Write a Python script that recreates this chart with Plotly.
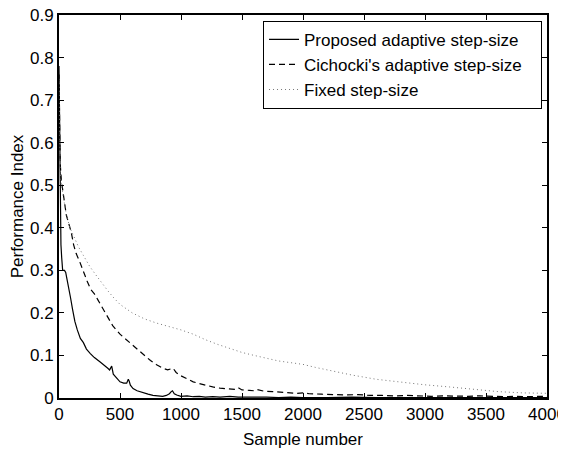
import plotly.graph_objects as go

# Proposed adaptive step-size
prop_x = [0, 4, 8, 12, 16, 22, 30, 45, 55, 65, 80, 95, 110, 130, 150, 175, 200, 225, 255, 290,
          335, 370, 400, 415, 425, 432, 445, 470, 500, 530, 555, 568, 575, 585, 607, 640, 690, 730,
          770, 810, 850, 880, 905, 920, 930, 945, 965, 1000, 1050, 1100, 1150, 1200, 1260, 1320,
          1400, 1470, 1550, 1600, 1700, 1800, 1900, 2000, 2200, 2400, 2600, 2800, 3000, 3200, 3400,
          3600, 3800, 4000]
prop_y = [0.78, 0.66, 0.52, 0.42, 0.36, 0.33, 0.30, 0.30, 0.295, 0.28, 0.26, 0.235, 0.21, 0.18,
          0.16, 0.14, 0.13, 0.115, 0.105, 0.095, 0.085, 0.078, 0.07, 0.066, 0.073, 0.075, 0.056,
          0.048, 0.038, 0.035, 0.035, 0.044, 0.04, 0.03, 0.022, 0.017, 0.012, 0.009, 0.006, 0.005,
          0.004, 0.006, 0.01, 0.015, 0.017, 0.01, 0.007, 0.004, 0.005, 0.003, 0.004, 0.002, 0.003,
          0.002, 0.004, 0.002, 0.003, 0.002, 0.002, 0.001, 0.002, 0.001, 0.001, 0.002, 0.001,
          0.001, 0.001, 0.001, 0.001, 0.001, 0.001, 0.001]

# Cichocki's adaptive step-size
cich_x = [0, 5, 10, 20, 30, 45, 60, 80, 100, 120, 140, 170, 200, 230, 260, 290, 320, 350, 380,
          410, 440, 470, 500, 540, 580, 620, 660, 700, 750, 800, 850, 890, 920, 935, 960, 1000,
          1050, 1100, 1150, 1200, 1260, 1320, 1400, 1450, 1470, 1500, 1560, 1600, 1620, 1680,
          1750, 1850, 1950, 2000, 2050, 2150, 2250, 2350, 2450, 2550, 2650, 2750, 2850, 2950,
          3050, 3150, 3250, 3350, 3450, 3550, 3650, 3750, 3850, 3950, 4000]
cich_y = [0.76, 0.62, 0.55, 0.51, 0.49, 0.45, 0.43, 0.41, 0.39, 0.36, 0.34, 0.32, 0.295, 0.275,
          0.255, 0.245, 0.23, 0.215, 0.2, 0.185, 0.17, 0.16, 0.15, 0.14, 0.13, 0.12, 0.11, 0.1,
          0.088, 0.078, 0.07, 0.066, 0.068, 0.07, 0.06, 0.052, 0.045, 0.038, 0.034, 0.03, 0.026,
          0.023, 0.021, 0.02, 0.024, 0.019, 0.018, 0.017, 0.02, 0.016, 0.015, 0.013, 0.011, 0.012,
          0.01, 0.009, 0.008, 0.007, 0.008, 0.006, 0.006, 0.005, 0.006, 0.005, 0.004, 0.005,
          0.004, 0.004, 0.005, 0.004, 0.003, 0.004, 0.003, 0.004, 0.003]

# Fixed step-size
fix_x = [0, 5, 10, 20, 40, 60, 90, 120, 160, 200, 250, 300, 350, 400, 450, 500, 550, 600, 700,
         800, 900, 1000, 1100, 1200, 1300, 1400, 1500, 1600, 1700, 1800, 1900, 2000, 2100, 2200,
         2400, 2600, 2800, 3000, 3200, 3400, 3600, 3800, 4000]
fix_y = [0.75, 0.6, 0.53, 0.50, 0.46, 0.43, 0.40, 0.38, 0.355, 0.335, 0.31, 0.29, 0.27, 0.252,
         0.235, 0.22, 0.21, 0.2, 0.186, 0.176, 0.168, 0.16, 0.15, 0.137, 0.126, 0.116, 0.107,
         0.1, 0.093, 0.087, 0.083, 0.079, 0.072, 0.066, 0.054, 0.044, 0.037, 0.031, 0.026, 0.02,
         0.015, 0.012, 0.011]

x_ticks = [0, 500, 1000, 1500, 2000, 2500, 3000, 3500, 4000]
y_ticks = [0, 0.1, 0.2, 0.3, 0.4, 0.5, 0.6, 0.7, 0.8, 0.9]
y_tick_text = ["0", "0.1", "0.2", "0.3", "0.4", "0.5", "0.6", "0.7", "0.8", "0.9"]

names = ["Proposed adaptive step-size", "Cichocki's adaptive step-size\u00a0\u00a0\u00a0",
         "Fixed step-size"]

FONT = "Liberation Sans, Arial, Helvetica, sans-serif"
FS = 17

fig = go.Figure()
fig.add_trace(go.Scatter(x=prop_x, y=prop_y, mode="lines", name=names[0],
                         line=dict(color="black", width=1.2)))
fig.add_trace(go.Scatter(x=cich_x, y=cich_y, mode="lines", name=names[1],
                         line=dict(color="black", width=1.2, dash="6px,4px")))
fig.add_trace(go.Scatter(x=fix_x, y=fix_y, mode="lines", name=names[2],
                         line=dict(color="#777777", width=1, dash="1px,3px")))

axis_common = dict(showgrid=False, zeroline=False, showline=True, linecolor="black", linewidth=2,
                   mirror="ticks", ticks="inside", ticklen=5, tickwidth=1, tickcolor="black",
                   automargin=False, ticklabeloverflow="allow",
                   tickfont=dict(family=FONT, size=FS, color="black"))

fig.update_xaxes(range=[0, 4000], tickvals=x_ticks, title=dict(text="Sample number",
                 font=dict(family=FONT, size=FS, color="black"), standoff=10), **axis_common)
fig.update_yaxes(range=[0, 0.9], tickvals=y_ticks, ticktext=y_tick_text,
                 title=dict(text="Performance Index", font=dict(family=FONT, size=FS, color="black"),
                            standoff=4), **axis_common)

# page body has an 8px margin, so the figure is 8px smaller and offset accordingly
fig.update_layout(
    width=558, height=442,
    margin=dict(l=51, r=19, t=7, b=52),
    plot_bgcolor="white", paper_bgcolor="white",
    font=dict(family=FONT, size=FS, color="black"),
    legend=dict(x=0.9898, y=0.985, xanchor="right", yanchor="top", bgcolor="white",
                bordercolor="black", borderwidth=1, itemwidth=30,
                font=dict(family=FONT, size=FS, color="black")),
)

fig.write_html("out.html")
